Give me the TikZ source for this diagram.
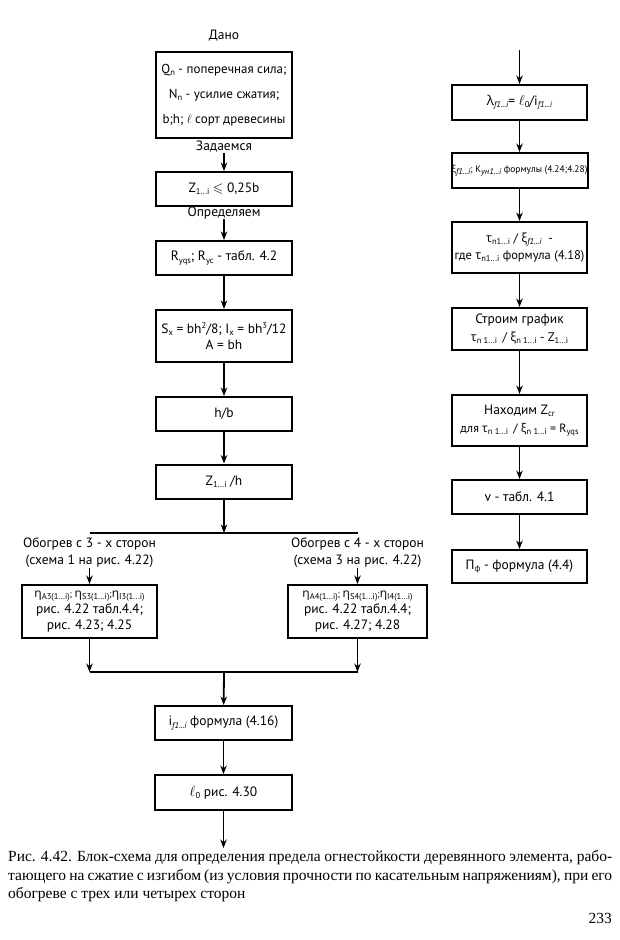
\documentclass[tikz,border=0pt]{standalone}
\usepackage{fontspec}
\usepackage{amssymb}
\setmainfont{PT Sans}
\newfontfamily\grk{Open Sans}
\newfontfamily\capf{Liberation Serif}
\usetikzlibrary{arrows.meta}
\newcommand\dn[1]{\raisebox{-0.35ex}{\fontsize{8.5}{8.5}\selectfont #1}}
\newcommand\upx[1]{\raisebox{0.75ex}{\fontsize{8.5}{8.5}\selectfont #1}}
\newcommand\g[1]{{\grk #1}}
\newcommand\etab{{\grk\fontsize{12}{12}\selectfont η}}
\begin{document}
\begin{tikzpicture}[x=1pt,y=-1pt,
 box/.style={draw,line width=2pt,minimum width=136pt,minimum height=34pt,inner sep=0pt,align=center,font=\fontsize{13.5}{16}\selectfont},
 lbl/.style={inner sep=0pt,align=center,font=\fontsize{13.5}{17}\selectfont},
 arr/.style={line width=1.8pt,-{Stealth[length=8.5pt,width=6.5pt]}},
 ln/.style={line width=1.8pt},
 captxt/.style={inner sep=0pt,anchor=west,font=\capf\fontsize{15.5}{17}\selectfont}]
\fill[white] (0,0) rectangle (620,940);
\useasboundingbox (0,0) rectangle (620,940);
% left column
\node[lbl] (dano) at (224,36) {Дано};
\node[box,minimum height=86pt,font=\fontsize{13}{25}\selectfont] (b1) at (224,95)
 {Q\dn{n} - поперечная сила;\\N\dn{n} - усилие сжатия;\\b;h; $\ell$ сорт древесины};
\node[lbl] (zad) at (224,147) {Задаемся};
\node[box] (b2) at (224,189) {Z\dn{1...i} $\leqslant$ 0,25b};
\node[lbl] (opr) at (224,213) {Определяем};
\node[box] (b3) at (224,258) {R\dn{yqs}; R\dn{yc} - табл. 4.2};
\node[box,minimum height=52pt] (b4) at (224,336) {S\dn{x} = bh\upx{2}/8; I\dn{x} = bh\upx{3}/12\\A = bh};
\node[box] (b5) at (224,414) {h/b};
\node[box] (b6) at (224,481.5) {Z\dn{1...i} /h};
\coordinate (jL) at (89.5,533);
\coordinate (jM) at (224,533);
\coordinate (jR) at (357.5,533);
\node[lbl] (lL) at (89.5,553) {Обогрев с 3 - х сторон\\(схема 1 на рис. 4.22)};
\node[lbl] (lR) at (357.5,553) {Обогрев с 4 - х сторон\\(схема 3 на рис. 4.22)};
\node[box,minimum width=135pt,minimum height=53pt,font=\fontsize{13.5}{16}\selectfont] (bl) at (89.5,611.5)
 {{\fontsize{9.5}{10}\selectfont\etab\dn{A3(1...i)}; \etab\dn{S3(1...i)};\etab\dn{I3(1...i)}}\\рис. 4.22 табл.4.4;\\рис. 4.23; 4.25};
\node[box,minimum width=139pt,minimum height=53pt,font=\fontsize{13.5}{16}\selectfont] (br) at (357.5,611.5)
 {{\fontsize{9.5}{10}\selectfont\etab\dn{A4(1...i)}; \etab\dn{S4(1...i)};\etab\dn{I4(1...i)}}\\рис. 4.22 табл.4.4;\\рис. 4.27; 4.28};
\coordinate (mL) at (89.5,672);
\coordinate (mM) at (224,672);
\coordinate (mR) at (357.5,672);
\node[box,minimum width=137pt] (bi) at (223.5,723) {i\dn{\itshape f1...i} формула (4.16)};
\node[box,minimum width=137pt,minimum height=35pt] (bl0) at (223.5,792.5) {$\ell$\dn{0} рис. 4.30};
\coordinate (bend) at (223.5,848);
% right column
\coordinate (rtop) at (519.5,50);
\node[box,minimum width=135pt,minimum height=35pt] (r1) at (519.5,102.5) {\g{λ}\dn{\itshape f1...i}= $\ell$\dn{0}/i\dn{\itshape f1...i}};
\node[box,minimum width=135pt,minimum height=35pt,font=\fontsize{9.5}{12}\selectfont] (r2) at (519.5,170.5) {\g{ξ}\dn{\itshape f1...i}; K\dn{\itshape yн1...i} формулы (4.24;4.28)};
\node[box,minimum width=135pt,minimum height=51pt,font=\fontsize{12.5}{17}\selectfont] (r3) at (519.5,247.5) {\g{τ}\dn{n1...i} / \g{ξ}\dn{\itshape f1...i} \ -\\где \g{τ}\dn{n1...i} формула (4.18)};
\node[box,minimum width=135pt,minimum height=42pt,font=\fontsize{13.5}{18}\selectfont] (r4) at (519.5,329) {Строим график\\{\fontsize{12.5}{12}\selectfont\g{τ}\dn{n 1...i} \,/ \g{ξ}\dn{n 1...i} - Z\dn{1...i}}};
\node[box,minimum width=135pt,minimum height=51pt,font=\fontsize{13.5}{18}\selectfont] (r5) at (519.5,420.5) {Находим Z\dn{cr}\\{\fontsize{12}{12}\selectfont для \g{τ}\dn{n 1...i} \,/ \g{ξ}\dn{n 1...i} = R\dn{yqs}}};
\node[box,minimum width=135pt] (r6) at (519.5,497) {v - табл. 4.1};
\node[box,minimum width=135pt,minimum height=33pt] (r7) at (519.5,566.5) {П\dn{ф} - формула (4.4)};
% connectors
\draw[arr] (zad.south) -- (b2.north);
\draw[arr] (opr.south) -- (b3.north);
\draw[arr] (b3) -- (b4);
\draw[arr] (b4) -- (b5);
\draw[arr] (b5) -- (b6);
\draw[arr] (b6) -- (jM);
\draw[ln] (jL) -- (jR);
\draw[arr] (lL.south) -- (bl.north);
\draw[arr] (lR.south) -- (br.north);
\draw[arr] (bl) -- (mL);
\draw[arr] (br) -- (mR);
\draw[ln] (mL) -- (mR);
\draw[arr] (mM) -- (bi);
\draw[arr] (bi) -- (bl0);
\draw[arr] (bl0) -- (bend);
\draw[arr] (rtop) -- (r1);
\draw[arr] (r1) -- (r2);
\draw[arr] (r2) -- (r3);
\draw[arr] (r3) -- (r4);
\draw[arr] (r4) -- (r5);
\draw[arr] (r5) -- (r6);
\draw[arr] (r6) -- (r7);
% caption
\node[captxt] (c1) at (8,858) {\makebox[604pt][s]{Рис. 4.42. Блок-схема для определения предела огнестойкости деревянного элемента, рабо-}};
\node[captxt] (c2) at (8,876.5) {\makebox[604pt][s]{тающего на сжатие с изгибом (из условия прочности по касательным напряжениям), при его}};
\node[captxt] (c3) at (8,895) {обогреве с трех или четырех сторон};
\node[inner sep=0pt,anchor=east,font=\capf\fontsize{15.5}{16}\selectfont] (pg) at (612,918) {233};
\end{tikzpicture}
\end{document}
